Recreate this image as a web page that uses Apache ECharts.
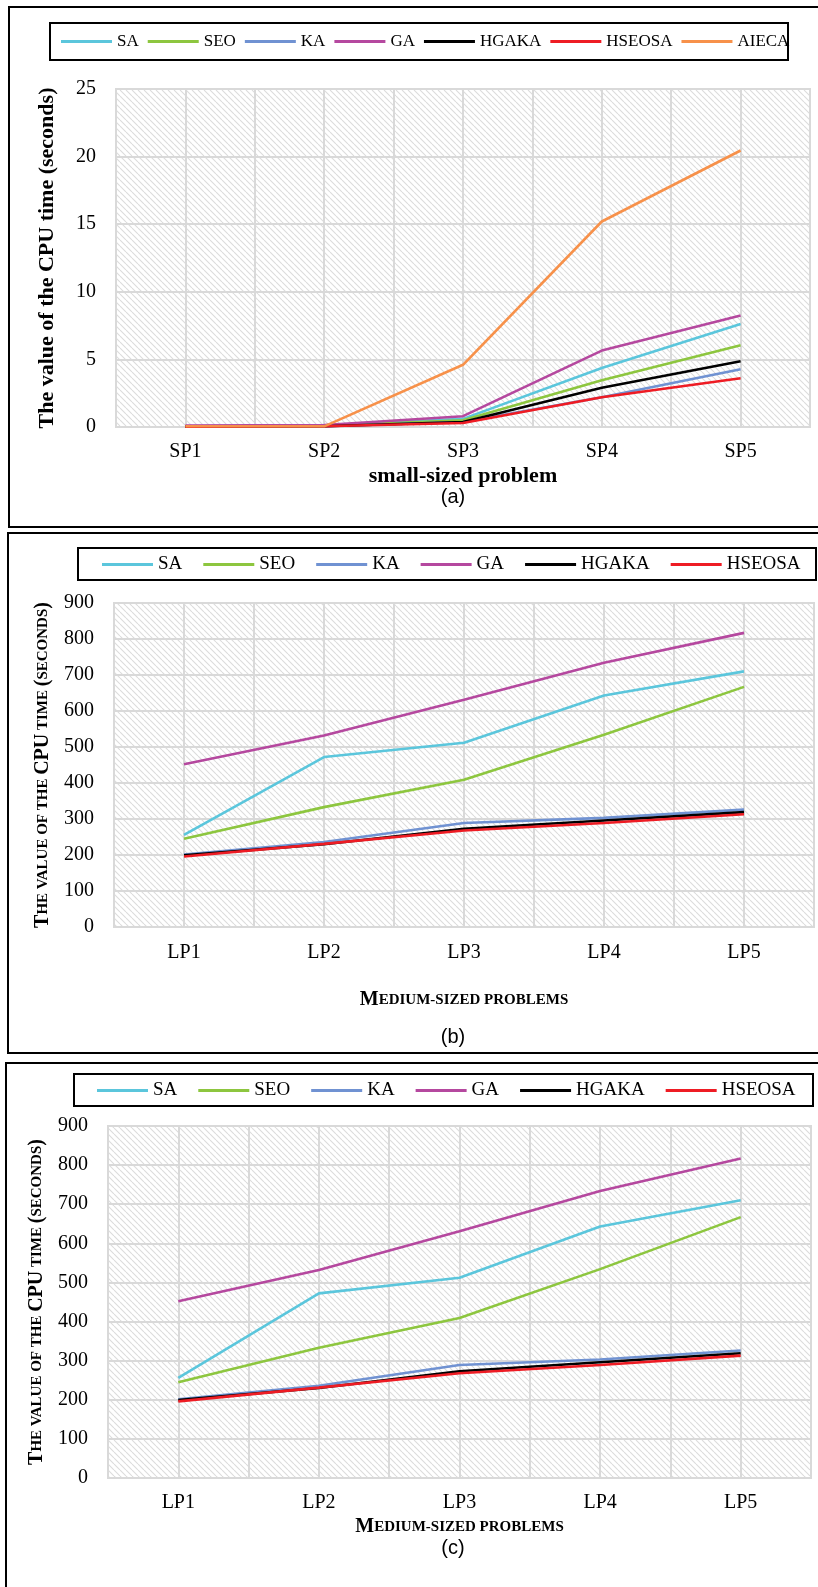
<!DOCTYPE html>
<html>
<head>
<meta charset="utf-8">
<script src="https://cdn.jsdelivr.net/npm/echarts@6/dist/echarts.min.js"></script>
<style>
html,body{margin:0;padding:0;background:#fff;}
#chart{width:818px;height:1587px;}
</style>
</head>
<body>
<div id="chart"></div>
<script>
// ---------- data ----------
var smallCats = ['SP1', 'SP2', 'SP3', 'SP4', 'SP5'];
var smallSA     = [0.05, 0.10, 0.60, 4.36, 7.62];
var smallSEO    = [0.04, 0.08, 0.50, 3.45, 6.05];
var smallKA     = [0.03, 0.06, 0.37, 2.20, 4.27];
var smallGA     = [0.10, 0.15, 0.80, 5.65, 8.25];
var smallHGAKA  = [0.03, 0.06, 0.37, 2.90, 4.86];
var smallHSEOSA = [0.02, 0.05, 0.30, 2.20, 3.60];
var smallAIECA  = [0.05, 0.05, 4.60, 15.20, 20.45];

var medCats = ['LP1', 'LP2', 'LP3', 'LP4', 'LP5'];
var medSA     = [256, 472, 512, 643, 710];
var medSEO    = [245, 333, 409, 534, 667];
var medKA     = [201, 236, 289, 303, 326];
var medGA     = [452, 532, 631, 734, 817];
var medHGAKA  = [199, 230, 273, 296, 319];
var medHSEOSA = [196, 231, 268, 289, 313];

var smallTicks = [0, 25, 5];   // min, max, interval
var medTicks = [0, 900, 100];

// ---------- styles ----------
var COLORS = {SA:'#5bc6dc', SEO:'#8dc63f', KA:'#7092d2', GA:'#b5489f', HGAKA:'#000000', HSEOSA:'#ee1c24', AIECA:'#f7914a'};
var SERIF = 'Liberation Serif';
var GRIDC = '#d9d9d9';

function hatch() {
  var c = document.createElement('canvas');
  c.width = 6; c.height = 6;
  var g = c.getContext('2d');
  g.strokeStyle = '#dcdcdc';
  g.lineWidth = 1.1;
  g.beginPath();
  [-6, 0, 6].forEach(function (k) { g.moveTo(k, 0); g.lineTo(k + 6, 6); });
  g.stroke();
  return c;
}
var pattern = {image: hatch(), repeat: 'repeat'};

var grids = [
  {left: 116, right: 8, top: 89, height: 338},
  {left: 114, right: 4, top: 603, height: 324},
  {left: 108, right: 7, top: 1126, height: 352}
];
grids.forEach(function (g) {
  g.show = true; g.backgroundColor = pattern; g.borderColor = GRIDC; g.borderWidth = 2;
});

var xAxes = [], yAxes = [];
var xNames = [
  {text: 'small-sized problem', gap: 38, fs: 22},
  {text: '{b|M}{s|EDIUM-SIZED PROBLEMS}', gap: 63, fs: 20},
  {text: '{b|M}{s|EDIUM-SIZED PROBLEMS}', gap: 39, fs: 20}
];
var cats = [smallCats, medCats, medCats];
var labelMargins = [15, 16, 15];
for (var i = 0; i < 3; i++) {
  xAxes.push({
    type: 'category', gridIndex: i, data: cats[i], boundaryGap: true,
    axisLine: {show: false}, axisTick: {show: false},
    axisLabel: {margin: labelMargins[i], color: '#000', fontFamily: SERIF, fontSize: 20},
    splitLine: {show: false},
    name: xNames[i].text, nameLocation: 'middle', nameGap: xNames[i].gap,
    nameTextStyle: {color: '#000', fontFamily: SERIF, fontWeight: 'bold', fontSize: xNames[i].fs,
      rich: {b: {fontFamily: SERIF, fontWeight: 'bold', fontSize: 20, color: '#000'},
             s: {fontFamily: SERIF, fontWeight: 'bold', fontSize: 15, color: '#000'}}}
  });
  // half-category vertical gridlines
  xAxes.push({
    type: 'value', gridIndex: i, min: 0, max: 10, interval: 1, position: 'top',
    axisLine: {show: false}, axisTick: {show: false}, axisLabel: {show: false},
    splitLine: {show: true, lineStyle: {color: GRIDC, width: 2}}
  });
}
var yTicks = [smallTicks, medTicks, medTicks];
var yNameGaps = [58, 55, 53];
var yNameSizes = [22, 19, 19];
var yNames = ['The value of the CPU time (seconds)',
  '{b|T}{s|HE VALUE OF THE }{b|CPU}{s| TIME }{b|(}{s|SECONDS}{b|)}',
  '{b|T}{s|HE VALUE OF THE }{b|CPU}{s| TIME }{b|(}{s|SECONDS}{b|)}'];
for (var j = 0; j < 3; j++) {
  yAxes.push({
    type: 'value', gridIndex: j, min: yTicks[j][0], max: yTicks[j][1], interval: yTicks[j][2],
    axisLine: {show: false}, axisTick: {show: false},
    axisLabel: {margin: 20, color: '#000', fontFamily: SERIF, fontSize: 20},
    splitLine: {show: true, lineStyle: {color: GRIDC, width: 2}},
    name: yNames[j], nameLocation: 'middle', nameGap: yNameGaps[j],
    nameTextStyle: {color: '#000', fontFamily: SERIF, fontWeight: 'bold', fontSize: yNameSizes[j],
      rich: {b: {fontFamily: SERIF, fontWeight: 'bold', fontSize: 20, color: '#000'},
             s: {fontFamily: SERIF, fontWeight: 'bold', fontSize: 15, color: '#000'}}}
  });
}

function mk(name, data, idx) {
  return {
    name: name, type: 'line', data: data, xAxisIndex: idx * 2, yAxisIndex: idx,
    symbol: 'none', smooth: false, animation: false,
    lineStyle: {color: COLORS[name], width: 2.6}, itemStyle: {color: COLORS[name]}
  };
}
var series = [
  mk('SA', smallSA, 0), mk('SEO', smallSEO, 0), mk('KA', smallKA, 0), mk('GA', smallGA, 0),
  mk('HGAKA', smallHGAKA, 0), mk('HSEOSA', smallHSEOSA, 0), mk('AIECA', smallAIECA, 0),
  mk('SA', medSA, 1), mk('SEO', medSEO, 1), mk('KA', medKA, 1), mk('GA', medGA, 1),
  mk('HGAKA', medHGAKA, 1), mk('HSEOSA', medHSEOSA, 1),
  mk('SA', medSA, 2), mk('SEO', medSEO, 2), mk('KA', medKA, 2), mk('GA', medGA, 2),
  mk('HGAKA', medHGAKA, 2), mk('HSEOSA', medHSEOSA, 2)
];

function legend(names, left, top, gap, fs) {
  return {
    data: names, left: left, top: top, orient: 'horizontal', padding: 0,
    itemGap: gap, itemWidth: 51, itemHeight: 3, icon: 'rect', selectedMode: false,
    textStyle: {color: '#000', fontFamily: SERIF, fontSize: fs}
  };
}
var sixNames = ['SA', 'SEO', 'KA', 'GA', 'HGAKA', 'HSEOSA'];
var legends = [
  legend(sixNames.concat(['AIECA']), 61, 33, 9, 17),
  legend(sixNames, 102, 555, 21, 19),
  legend(sixNames, 97, 1081, 21, 19)
];

function box(x, y, w, h) {
  return {type: 'rect', shape: {x: x, y: y, width: w, height: h}, silent: true,
    style: {fill: 'none', stroke: '#000', lineWidth: 2}};
}
function lab(t, x, y) {
  return {type: 'text', x: x, y: y, silent: true,
    style: {text: t, fill: '#000', font: '20px "Liberation Sans"', textAlign: 'center', textVerticalAlign: 'middle'}};
}
var graphics = [
  box(9, 7, 830, 520), box(50, 23, 738, 37), lab('(a)', 453, 497),
  box(8, 533, 830, 520), box(78, 548, 738, 32), lab('(b)', 453, 1037),
  box(6, 1063, 830, 540), box(74, 1074, 739, 32), lab('(c)', 453, 1548)
];

var chart = echarts.init(document.getElementById('chart'), null, {renderer: 'canvas'});
chart.setOption({
  animation: false,
  backgroundColor: '#fff',
  grid: grids, xAxis: xAxes, yAxis: yAxes,
  legend: legends, series: series, graphic: graphics
});
</script>
</body>
</html>
